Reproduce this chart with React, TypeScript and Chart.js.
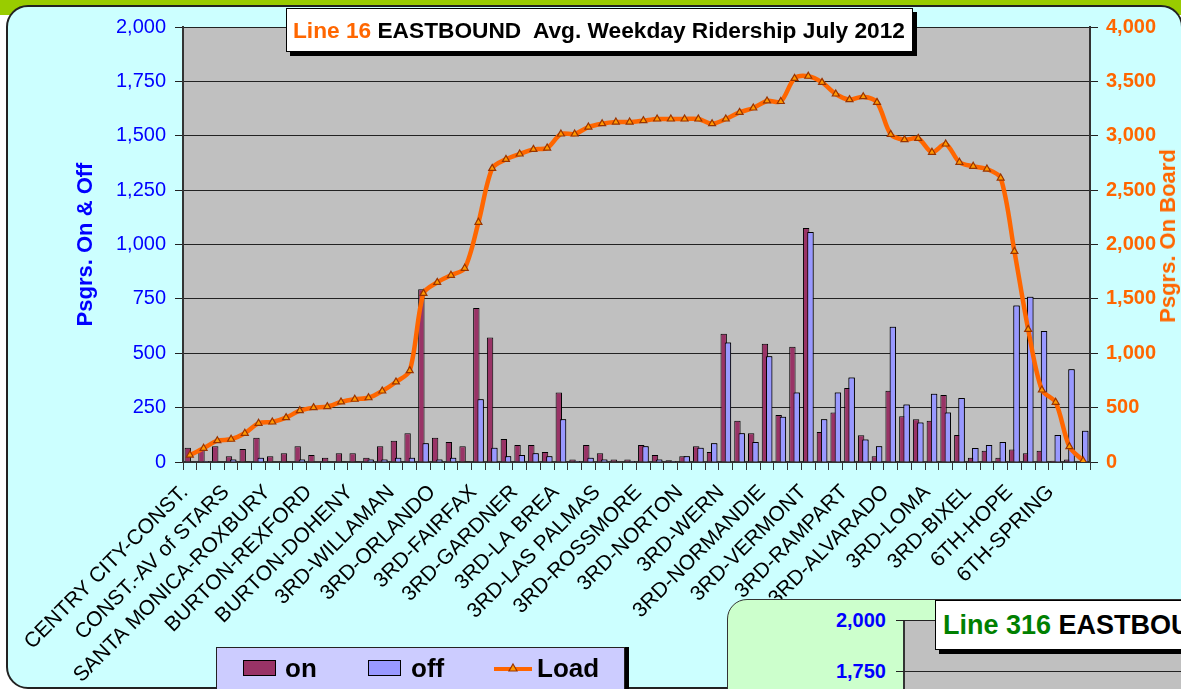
import React, { useEffect, useRef } from 'react';
import { Chart, registerables } from 'chart.js';

Chart.register(...registerables);

const FONT = "'Liberation Sans', Arial, sans-serif";

// Every third stop is labelled on the axis
const stopLabels = [
  'CENTRY CITY-CONST.', 'CONST.-AV of STARS', 'SANTA MONICA-ROXBURY', 'BURTON-REXFORD',
  'BURTON-DOHENY', '3RD-WILLAMAN', '3RD-ORLANDO', '3RD-FAIRFAX', '3RD-GARDNER',
  '3RD-LA BREA', '3RD-LAS PALMAS', '3RD-ROSSMORE', '3RD-NORTON', '3RD-WERN',
  '3RD-NORMANDIE', '3RD-VERMONT', '3RD-RAMPART', '3RD-ALVARADO', '3RD-LOMA',
  '3RD-BIXEL', '6TH-HOPE', '6TH-SPRING',
];
const LABEL_EVERY = 3;

const onBoardings = [
  66, 55, 72, 26, 60, 112, 26, 40, 72, 32,
  20, 40, 40, 20, 72, 98, 132, 794, 112, 92,
  72, 708, 572, 106, 78, 78, 46, 320, 12, 78,
  40, 12, 12, 78, 32, 8, 26, 72, 46, 590,
  190, 132, 544, 216, 530, 1076, 138, 228, 340, 123,
  26, 328, 210, 196, 190, 308, 124, 20, 52, 20,
  58, 40, 52, 6, 12, 0,
];
const offAlightings = [
  0, 5, 0, 12, 3, 20, 0, 3, 12, 0,
  0, 3, 3, 12, 12, 20, 20, 86, 12, 20,
  3, 288, 66, 26, 32, 40, 26, 196, 5, 20,
  12, 0, 5, 72, 12, 5, 26, 66, 86, 550,
  132, 92, 486, 208, 320, 1057, 196, 320, 388, 104,
  72, 622, 264, 182, 314, 228, 294, 64, 78, 92,
  720, 760, 602, 124, 426, 144,
];
const loadOnBoard = [
  64, 126, 196, 209, 264, 356, 368, 408, 472, 500,
  509, 552, 577, 591, 653, 736, 840, 1551, 1652, 1717,
  1781, 2204, 2700, 2783, 2832, 2875, 2887, 3016, 3016, 3080,
  3111, 3126, 3126, 3139, 3154, 3154, 3154, 3154, 3111, 3154,
  3215, 3255, 3320, 3315, 3528, 3547, 3491, 3384, 3332, 3359,
  3307, 3013, 2964, 2976, 2848, 2924, 2756, 2719, 2694, 2611,
  1937, 1220, 662, 549, 141, 12,
];

const categories = onBoardings.map((_, i) =>
  i % LABEL_EVERY === 0 ? stopLabels[i / LABEL_EVERY] ?? '' : ''
);

const ON_COLOR = '#993366';
const OFF_COLOR = '#9999FF';
const LOAD_COLOR = '#FF6600';

const plotBackground = {
  id: 'plotBackground',
  beforeDraw(chart: any) {
    const { ctx, chartArea: a } = chart;
    ctx.save();
    ctx.fillStyle = '#C0C0C0';
    ctx.fillRect(a.left, a.top, a.right - a.left, a.bottom - a.top);
    ctx.restore();
  },
};

// Excel draws the "off" bar in front of the overlapping "on" bar:
// once "on" (dataset 1) has been drawn, draw "off" (dataset 2) again on top of it.
const offInFront = {
  id: 'offInFront',
  afterDatasetDraw(chart: any, args: any) {
    if (args.index === 1) {
      const meta = chart.getDatasetMeta(2);
      if (meta && meta.controller) meta.controller.draw();
    }
  },
};

const fmt = (v: any) => Number(v).toLocaleString('en-US');

function MainChart() {
  const ref = useRef<HTMLCanvasElement | null>(null);
  useEffect(() => {
    if (!ref.current) return;
    const barCommon = {
      categoryPercentage: 0.62,
      barPercentage: 1.5,
      borderColor: '#000000',
      borderWidth: 1,
      yAxisID: 'y',
      order: 1,
    };
    const chart = new Chart(ref.current, {
      type: 'bar',
      data: {
        labels: categories,
        datasets: [
          {
            type: 'line',
            label: 'Load',
            data: loadOnBoard,
            yAxisID: 'y1',
            borderColor: LOAD_COLOR,
            borderWidth: 4.5,
            tension: 0.3,
            pointStyle: 'triangle',
            pointRadius: 4,
            pointBackgroundColor: '#FF9900',
            pointBorderColor: '#993300',
            pointBorderWidth: 1.2,
            order: 0,
          } as any,
          { ...barCommon, label: 'on', data: onBoardings, backgroundColor: ON_COLOR } as any,
          { ...barCommon, label: 'off', data: offAlightings, backgroundColor: OFF_COLOR } as any,
        ],
      },
      options: {
        responsive: false,
        animation: false,
        devicePixelRatio: 1,
        layout: { padding: { top: 27, left: 0, right: 0, bottom: 0 } },
        plugins: { legend: { display: false }, tooltip: { enabled: false }, title: { display: false } },
        scales: {
          x: {
            type: 'category',
            offset: true,
            afterFit: (s: any) => { s.height = 227; },
            grid: { offset: true, drawOnChartArea: false, drawTicks: true, tickLength: 8, color: '#333333' },
            border: { display: true, color: '#333333', width: 2 },
            ticks: {
              autoSkip: false,
              minRotation: 45,
              maxRotation: 45,
              padding: 10,
              labelOffset: -5,
              color: '#000000',
              font: { family: FONT, size: 21 },
            },
          },
          y: {
            position: 'left',
            min: 0,
            max: 2000,
            afterFit: (s: any) => { s.width = 183; },
            grid: { color: '#222222', lineWidth: 1, tickLength: 8, drawTicks: true },
            border: { display: true, color: '#333333', width: 2 },
            ticks: {
              stepSize: 250,
              padding: 9,
              color: '#0000FF',
              font: { family: FONT, size: 20 },
              callback: fmt,
            },
            title: {
              display: true,
              text: 'Psgrs. On & Off',
              color: '#0000FF',
              font: { family: FONT, size: 22, weight: 'bold' },
              padding: { top: 73, bottom: 0 },
            },
          },
          y1: {
            position: 'right',
            min: 0,
            max: 4000,
            afterFit: (s: any) => { s.width = 91; },
            grid: { drawOnChartArea: false, color: '#222222', tickLength: 8, drawTicks: true },
            border: { display: true, color: '#333333', width: 2 },
            ticks: {
              stepSize: 500,
              padding: 8,
              color: LOAD_COLOR,
              font: { family: FONT, size: 20, weight: 'bold' },
              callback: fmt,
            },
          },
        },
      } as any,
      plugins: [plotBackground, offInFront],
    });
    return () => chart.destroy();
  }, []);
  return (
    <canvas
      ref={ref}
      width={1181}
      height={689}
      style={{ position: 'absolute', left: 0, top: 0, width: 1181, height: 689 }}
    />
  );
}

const abs = (s: React.CSSProperties): React.CSSProperties => ({ position: 'absolute', ...s });

function Legend() {
  const text: React.CSSProperties = { fontWeight: 'bold', fontSize: 26, color: '#000', lineHeight: '30px' };
  return (
    <div style={abs({ left: 216, top: 647, width: 407, height: 48, background: '#CCCCFF', border: '1px solid #222', boxShadow: '4px 0 0 #000' })}>
      <div style={abs({ left: 26, top: 12, width: 31, height: 14, background: ON_COLOR, border: '1.5px solid #000' })} />
      <div style={abs({ ...text, left: 68, top: 5 })}>on</div>
      <div style={abs({ left: 151, top: 12, width: 31, height: 14, background: OFF_COLOR, border: '1.5px solid #000' })} />
      <div style={abs({ ...text, left: 194, top: 5 })}>off</div>
      <svg style={abs({ left: 276, top: 12, width: 40, height: 16 })} viewBox="0 0 40 16">
        <line x1="1" y1="9" x2="39" y2="9" stroke={LOAD_COLOR} strokeWidth="4" />
        <polygon points="20,4 24,11 16,11" fill="#FF9900" stroke="#993300" strokeWidth="1.2" />
      </svg>
      <div style={abs({ ...text, left: 320, top: 5 })}>Load</div>
    </div>
  );
}

function NextChartPeek() {
  const lbl: React.CSSProperties = { color: '#0000FF', fontWeight: 'bold', fontSize: 20, width: 80, textAlign: 'right', lineHeight: '24px' };
  return (
    <div style={abs({ left: 727, top: 599, width: 520, height: 140, background: '#CCFFCC', border: '1.5px solid #333', borderTopLeftRadius: 20 })}>
      <div style={abs({ left: 175, top: 20, width: 340, height: 120, background: '#C0C0C0', borderLeft: '2px solid #333' })} />
      <div style={abs({ left: 168, top: 20, width: 350, height: 1, background: '#222' })} />
      <div style={abs({ left: 168, top: 71, width: 350, height: 1, background: '#222' })} />
      <div style={abs({ ...lbl, left: 78, top: 8 })}>2,000</div>
      <div style={abs({ ...lbl, left: 78, top: 59 })}>1,750</div>
      <div style={abs({ left: 207, top: 0, width: 520, height: 48, background: '#fff', border: '1.5px solid #000', boxShadow: '4px 4px 0 #000' })}>
        <div style={abs({ left: 7, top: 8, fontWeight: 'bold', fontSize: 27, whiteSpace: 'nowrap', lineHeight: '32px' })}>
          <span style={{ color: '#008000' }}>Line 316</span> EASTBOUND&nbsp; Avg. Weekday Ridership July 2012
        </div>
      </div>
    </div>
  );
}

export default function App() {
  return (
    <div style={abs({ left: 0, top: 0, width: 1181, height: 689, overflow: 'hidden', background: '#ffffff', fontFamily: FONT })}>
      <div style={abs({ left: 0, top: 0, width: 1181, height: 15, background: '#99CC00' })} />
      <div style={abs({ left: 6, top: 5, width: 1173, height: 680, background: '#CCFFFF', border: '2px solid #222', borderRadius: 22 })} />
      <MainChart />
      <div style={abs({ left: 1168, top: 236, transform: 'translate(-50%, -50%) rotate(-90deg)', whiteSpace: 'nowrap', color: LOAD_COLOR, fontWeight: 'bold', fontSize: 22 })}>
        Psgrs. On Board
      </div>
      <div style={abs({ left: 286, top: 8, width: 625, height: 42, background: '#fff', border: '1.5px solid #000', boxShadow: '4px 4px 0 #000' })}>
        <div style={abs({ left: 6, top: 8, fontWeight: 'bold', fontSize: 22.7, whiteSpace: 'nowrap', lineHeight: '26px', color: '#000' })}>
          <span style={{ color: LOAD_COLOR }}>Line 16</span> EASTBOUND&nbsp; Avg. Weekday Ridership July 2012
        </div>
      </div>
      <Legend />
      <NextChartPeek />
    </div>
  );
}
